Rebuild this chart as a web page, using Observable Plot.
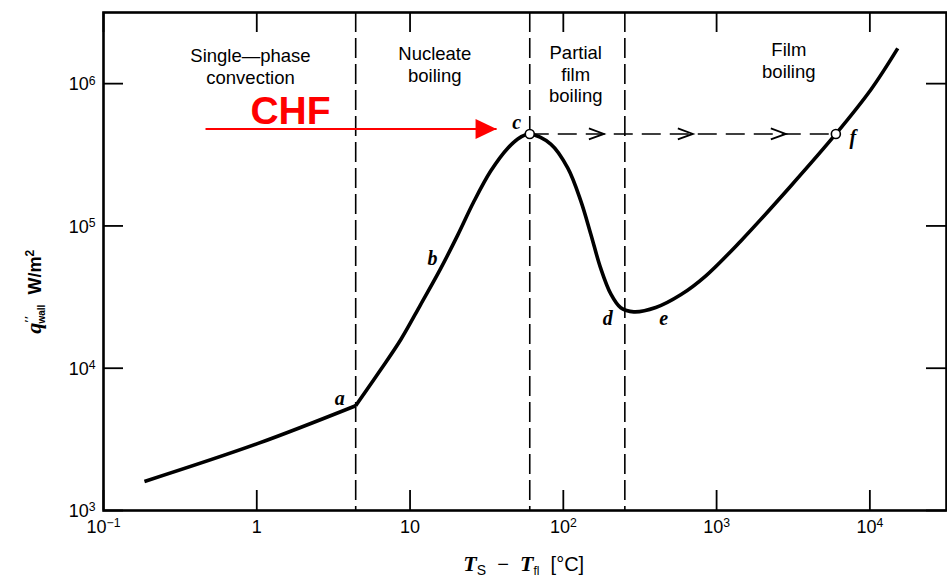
<!DOCTYPE html>
<html><head><meta charset="utf-8">
<script src="https://cdn.jsdelivr.net/npm/d3@7"></script>
<script src="https://cdn.jsdelivr.net/npm/@observablehq/plot@0.6"></script>
<style>body{margin:0;background:#fff}</style>
</head><body><div id="chart"></div>
<script>
// ---- data ----
const xTicks = [0.1, 1, 10, 100, 1000, 10000];
const xTickLabels = ["10^−1", "1", "10", "10^2", "10^3", "10^4"];
const yTicks = [1e3, 1e4, 1e5, 1e6];
const yTickLabels = ["10^3", "10^4", "10^5", "10^6"];

// boiling curve: wall superheat (°C) vs wall heat flux (W/m2)
const singlePhaseT = [0.185, 1.01, 4.42];
const singlePhaseQ = [1600, 2950, 5450];
const boilingT = [4.42, 6.43, 8.69, 11.7, 15.8, 20.5, 26.0, 33.6, 43.4, 52.7, 60.4, 82.8, 107, 130, 151, 175, 204, 237, 288, 401, 583, 851, 1440, 3050, 6000, 10200, 15200];
const boilingQ = [5450, 9750, 15850, 27900, 49900, 86500, 147200, 243000, 352000, 421000, 443000, 376000, 255000, 150000, 87900, 50700, 33300, 26600, 24900, 26700, 32800, 44600, 78500, 191000, 443000, 914000, 1770000];

// regime boundaries (dashed verticals)
const regimeBounds = [4.42, 60.4, 252];
// regime names
const regimeNames = ["Single—phase\nconvection", "Nucleate\nboiling", "Partial\nfilm\nboiling", "Film\nboiling"];
const regimeCenters = [0.91, 14.5, 120.5, 2960];

// points a..f
const pointNames = ["a", "b", "c", "d", "e", "f"];
const pointT = [4.42, 15.8, 60.4, 237, 372, 6000];
const pointQ = [5450, 49900, 443000, 26600, 26200, 443000];

// CHF jump c -> f
const jumpFrom = 60.4, jumpTo = 6000, jumpQ = 443000;
const jumpArrowT = [184, 700, 2830];

// CHF red arrow
const chfFrom = 0.463, chfTo = 36.7, chfQ = 480000, chfTextT = 1.66;

// ---- build tables ----
const curve = [
  ...singlePhaseT.map((t, i) => ({t, q: singlePhaseQ[i], s: "single"})),
  ...boilingT.map((t, i) => ({t, q: boilingQ[i], s: "boiling"}))
];
const points = pointNames.map((n, i) => ({n, t: pointT[i], q: pointQ[i]}));
const regimes = regimeNames.map((n, i) => ({n, t: regimeCenters[i]}));

const chevron = {draw(ctx) { ctx.moveTo(-15, -5.5); ctx.lineTo(0, 0); ctx.lineTo(-15, 5.5); }};
const triangle = {draw(ctx) { ctx.moveTo(0, 0); ctx.lineTo(-21, -10); ctx.lineTo(-21, 10); ctx.closePath(); }};

const W = 947, H = 577, mL = 103, mT = 12, mB = 67, mR = 1;
const innerW = W - mL - mR, innerH = H - mT - mB, tick = 20;
const sans = "Liberation Sans, Arial, Helvetica, sans-serif";
const serif = "Liberation Serif, Times New Roman, serif";

const regimeDy = [34, 32, 31, 28];
const pointDx = [-16, -8, -13, -13, 13, 17];
const pointDy = [-7, -10, -11, 11, 10, 4];

const chart = Plot.plot({
  width: W, height: H,
  marginLeft: mL, marginTop: mT, marginBottom: mB, marginRight: mR,
  x: {type: "log", domain: [0.1, Math.pow(10, 4.5)], axis: null},
  y: {type: "log", domain: [1e3, Math.pow(10, 6.5)], axis: null},
  style: {fontFamily: sans, background: "#fff", color: "#000", overflow: "visible"},
  marks: [
    // inward ticks on all four sides
    Plot.tickX(xTicks, {x: d => d, insetTop: innerH - tick, stroke: "#000", strokeWidth: 1.8}),
    Plot.tickX(xTicks, {x: d => d, insetBottom: innerH - tick, stroke: "#000", strokeWidth: 1.8}),
    Plot.tickY(yTicks, {y: d => d, insetRight: innerW - tick, stroke: "#000", strokeWidth: 1.8}),
    Plot.tickY(yTicks, {y: d => d, insetLeft: innerW - tick, stroke: "#000", strokeWidth: 1.8}),
    // regime boundaries
    Plot.ruleX(regimeBounds, {x: d => d, stroke: "#000", strokeWidth: 1.6, strokeDasharray: "20,6"}),
    // CHF jump c -> f
    Plot.link([{x1: jumpFrom, x2: jumpTo, y: jumpQ}], {x1: "x1", x2: "x2", y1: "y", y2: "y", stroke: "#000", strokeWidth: 1.6, strokeDasharray: "19,9"}),
    Plot.dot(jumpArrowT, {x: d => d, y: () => jumpQ, symbol: chevron, fill: "none", stroke: "#000", strokeWidth: 1.8}),
    // boiling curve
    Plot.line(curve, {x: "t", y: "q", z: "s", curve: "catmull-rom", stroke: "#000", strokeWidth: 3.6, strokeLinecap: "butt"}),
    Plot.dot([points[2], points[5]], {x: "t", y: "q", r: 4.5, fill: "#fff", stroke: "#000", strokeWidth: 1.6}),
    // point labels
    Plot.text(points, {x: "t", y: "q", text: "n", fontFamily: serif, fontStyle: "italic", fontWeight: "bold", fontSize: 20, fill: "#000"}),
    // regime names
    Plot.text(regimes, {x: "t", text: "n", frameAnchor: "top", textAnchor: "middle", lineAnchor: "top", lineHeight: 1.17, fontSize: 18.5, fill: "#000"}),
    // CHF annotation
    Plot.link([{x1: chfFrom, x2: chfTo, y: chfQ}], {x1: "x1", x2: "x2", y1: "y", y2: "y", stroke: "#ff0000", strokeWidth: 2}),
    Plot.dot([chfTo], {x: d => d, y: () => chfQ, symbol: triangle, fill: "#ff0000", stroke: "none"}),
    Plot.text(["CHF"], {x: () => chfTextT, y: () => chfQ, text: d => d, lineAnchor: "bottom", dy: -5, fontSize: 39, fontWeight: "bold", fill: "#ff0000"}),
    // tick labels
    Plot.text(xTicks, {x: d => d, text: (d, i) => xTickLabels[i], frameAnchor: "bottom", textAnchor: "middle", lineAnchor: "top", dy: 10, fontSize: 18, fill: "#000"}),
    Plot.text(yTicks, {y: d => d, text: (d, i) => yTickLabels[i], frameAnchor: "left", textAnchor: "end", dx: -8, dy: 1, fontSize: 18, fill: "#000"}),
    // axis titles (rich text filled in below)
    Plot.text(["XLABEL"], {x: () => 55.2, text: d => d, frameAnchor: "bottom", textAnchor: "middle", lineAnchor: "bottom", dy: 60, fontSize: 20, fill: "#000"}),
    Plot.text(["YLABEL"], {y: () => 34400, text: d => d, frameAnchor: "left", textAnchor: "middle", dx: -68, rotate: -90, fontSize: 17, fill: "#000"}),
    Plot.frame({stroke: "#000", strokeWidth: 2.6})
  ]
});

const svg = d3.select(chart);
// per-label offsets for point labels
svg.selectAll("text").each(function() {
  const pi = pointNames.indexOf(this.textContent);
  const g = this.parentNode;
  if (pi >= 0 && g && g.getAttribute("font-style") === "italic") {
    const tr = this.getAttribute("transform") || "";
    d3.select(this).attr("transform", tr + ` translate(${pointDx[pi]},${pointDy[pi]})`);
  }
});
// regime names: multi-line texts
svg.selectAll("text").filter(function() { return this.querySelectorAll("tspan").length > 1; })
  .each(function(d, i) {
    const tr = this.getAttribute("transform") || "";
    d3.select(this).attr("transform", tr + ` translate(0,${regimeDy[i]})`);
  });
// superscripts in tick labels
svg.selectAll("text").each(function() {
  const t = this.textContent;
  if (this.querySelector("tspan") || !t.includes("^")) return;
  const [base, sup] = t.split("^");
  this.textContent = base;
  d3.select(this).append("tspan").attr("dy", "-0.48em").attr("font-size", "0.68em").text(sup);
});
// axis titles
svg.selectAll("text").each(function() {
  const t = this.textContent;
  const el = d3.select(this);
  if (t === "XLABEL") {
    this.textContent = "";
    el.append("tspan").attr("font-family", serif).attr("font-style", "italic").attr("font-weight", "bold").attr("font-size", 22).text("T");
    el.append("tspan").attr("dy", 4).attr("font-size", 14).text("S");
    el.append("tspan").attr("dy", -4).text("  −  ");
    el.append("tspan").attr("font-family", serif).attr("font-style", "italic").attr("font-weight", "bold").attr("font-size", 22).text("T");
    el.append("tspan").attr("dy", 4).attr("font-size", 12).text("fl");
    el.append("tspan").attr("dy", -4).text("  [°C]");
  } else if (t === "YLABEL") {
    this.textContent = "";
    el.attr("font-weight", "bold");
    el.append("tspan").attr("font-family", serif).attr("font-style", "italic").attr("font-size", 22).text("q");
    el.append("tspan").attr("dy", -8).attr("font-size", 13).attr("font-family", serif).text("′′");
    el.append("tspan").attr("dy", 12).attr("dx", -8).attr("font-size", 10).text("wall");
    el.append("tspan").attr("dy", -4).attr("font-size", 18).text("  W/m");
    el.append("tspan").attr("dy", -7).attr("font-size", 12).text("2");
  }
});
document.getElementById("chart").appendChild(chart);
</script>
</body></html>
